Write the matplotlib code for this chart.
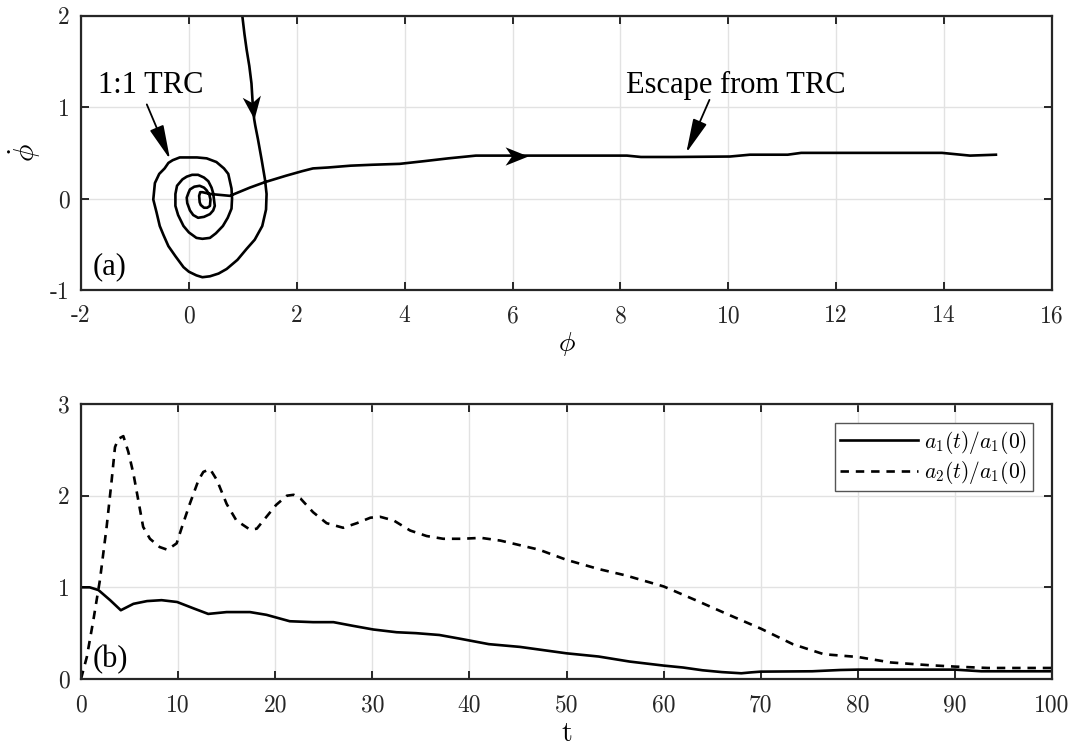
import numpy as np
import matplotlib
matplotlib.use("Agg")
import matplotlib.pyplot as plt
from matplotlib.path import Path
from matplotlib.markers import MarkerStyle
from matplotlib.transforms import Affine2D

plt.rcParams["mathtext.fontset"] = "cm"
plt.rcParams["axes.unicode_minus"] = False

# ---------------- phase-plane trajectory (panel a) ----------------
phi = [0.99, 1.03, 1.07, 1.12, 1.16, 1.19, 1.21, 1.23, 1.28, 1.35, 1.41, 1.44, 1.43,
       1.36, 1.22, 1.07, 0.90, 0.70, 0.55, 0.39, 0.25, 0.14, 0.00, -0.10, -0.25,
       -0.38, -0.47, -0.54, -0.60, -0.66, -0.63, -0.55, -0.45, -0.38, -0.30, -0.17,
       0.00, 0.15, 0.33, 0.51, 0.65, 0.73, 0.79, 0.80, 0.79, 0.72, 0.63, 0.50,
       0.39, 0.25, 0.14, 0.00, -0.10, -0.20, -0.25, -0.25, -0.22, -0.12, -0.04,
       0.06, 0.17, 0.28, 0.36, 0.42, 0.45, 0.48, 0.45, 0.39, 0.28, 0.17, 0.08,
       0.02, -0.03, -0.04, -0.01, 0.02, 0.10, 0.20, 0.28, 0.33, 0.38, 0.40, 0.39,
       0.34, 0.28, 0.22, 0.20, 0.19, 0.21, 0.25, 0.40, 0.58, 0.76, 1.13, 1.41,
       1.80, 2.10, 2.30, 2.58, 3.00, 3.40, 3.91, 4.37, 4.81, 5.32, 5.69, 6.28,
       7.00, 8.12, 8.38, 9.00, 10.03, 10.40, 11.10, 11.35, 12.50, 13.96, 14.48,
       14.96]
phidot = [2.00, 1.80, 1.63, 1.45, 1.26, 0.97, 0.87, 0.80, 0.65, 0.42, 0.21, 0.05, -0.12,
          -0.30, -0.45, -0.55, -0.67, -0.77, -0.82, -0.85, -0.86, -0.84, -0.80, -0.75,
          -0.63, -0.52, -0.40, -0.30, -0.15, -0.01, 0.17, 0.27, 0.33, 0.39, 0.42, 0.45,
          0.45, 0.45, 0.44, 0.40, 0.33, 0.27, 0.11, 0.00, -0.11, -0.21, -0.30, -0.38,
          -0.43, -0.44, -0.43, -0.37, -0.30, -0.18, -0.08, 0.05, 0.14, 0.21, 0.24,
          0.26, 0.26, 0.23, 0.19, 0.12, 0.06, -0.08, -0.13, -0.17, -0.20, -0.21,
          -0.18, -0.13, -0.05, 0.01, 0.06, 0.10, 0.13, 0.14, 0.12, 0.09, 0.04, -0.01,
          -0.08, -0.10, -0.10, -0.07, -0.04, 0.03, 0.07, 0.07, 0.05, 0.04, 0.03,
          0.12, 0.18, 0.25, 0.30, 0.33, 0.34, 0.36, 0.37, 0.38, 0.41, 0.44, 0.47,
          0.47, 0.47, 0.47, 0.47, 0.455, 0.455, 0.46, 0.48, 0.48, 0.50, 0.50, 0.50,
          0.47, 0.48]
# trajectory vertices (by phi value) where a direction arrowhead sits
arrow_tips_phi = [1.21, 6.28]

phi_ticks = [-2, 0, 2, 4, 6, 8, 10, 12, 14, 16]
phidot_ticks = [-1, 0, 1, 2]

# ---------------- amplitude ratios (panel b) ----------------
t1 = [0.0, 0.9, 1.8, 3.0, 4.1, 5.4, 6.8, 8.3, 9.9, 11.6, 13.1, 15.0, 17.4, 19.1,
      21.5, 23.9, 26.0, 28.0, 30.1, 32.5, 34.5, 36.9, 39.0, 42.0, 45.2, 50.0,
      53.3, 56.5, 60.0, 62.0, 64.0, 66.0, 68.0, 69.0, 70.0, 75.3, 78.2, 80.0,
      90.0, 92.7, 100.0]
a1 = [1.00, 1.00, 0.97, 0.86, 0.75, 0.82, 0.85, 0.86, 0.84, 0.77, 0.71, 0.73,
      0.73, 0.70, 0.63, 0.62, 0.62, 0.58, 0.54, 0.51, 0.50, 0.48, 0.44, 0.38,
      0.35, 0.28, 0.245, 0.19, 0.146, 0.125, 0.095, 0.075, 0.062, 0.072, 0.08,
      0.084, 0.098, 0.102, 0.102, 0.084, 0.084]

t2 = [0.0, 0.6, 1.27, 1.95, 2.64, 3.16, 3.5, 3.84, 4.36, 4.87, 5.4, 5.9, 6.4,
      7.1, 8.1, 8.9, 9.85, 10.4, 11.2, 12.1, 12.6, 13.3, 14.0, 15.0, 16.0, 17.4,
      18.1, 19.1, 20.1, 21.2, 21.9, 22.6, 23.9, 25.3, 27.0, 28.4, 29.8, 30.8,
      32.2, 33.9, 35.6, 37.3, 39.2, 41.2, 43.2, 47.2, 50.0, 53.3, 56.1, 60.0,
      63.3, 66.5, 70.0, 73.3, 76.5, 80.0, 83.4, 87.4, 90.0, 93.4, 100.0]
a2 = [0.0, 0.24, 0.64, 1.08, 1.66, 2.17, 2.53, 2.62, 2.65, 2.48, 2.24, 1.95, 1.66,
      1.53, 1.44, 1.41, 1.48, 1.66, 1.91, 2.17, 2.26, 2.29, 2.17, 1.91, 1.73, 1.63,
      1.64, 1.77, 1.90, 2.00, 2.01, 1.97, 1.82, 1.70, 1.65, 1.70, 1.76, 1.77,
      1.73, 1.62, 1.56, 1.53, 1.53, 1.54, 1.51, 1.41, 1.30, 1.20, 1.13, 1.01,
      0.86, 0.71, 0.55, 0.38, 0.27, 0.24, 0.18, 0.15, 0.135, 0.12, 0.12]

t_ticks = [0, 10, 20, 30, 40, 50, 60, 70, 80, 90, 100]
amp_ticks = [0, 1, 2, 3]

# ---------------- styling helpers ----------------
SPINE = "#262626"
TXT = dict(family="Liberation Serif", size=22, color="black")
POINTER = dict(arrowstyle="-|>,head_length=2.1,head_width=0.45",
               mutation_scale=10, color="black", lw=1.3, shrinkA=0, shrinkB=0)

# notched arrowhead pointing along +x with its tip at the origin
HEAD = Path([(0, 0), (-1, 0.40), (-0.72, 0), (-1, -0.40), (0, 0)],
            [Path.MOVETO, Path.LINETO, Path.LINETO, Path.LINETO, Path.CLOSEPOLY])


def style_axes(ax, xticks, yticks):
    ax.set_xticks(xticks)
    ax.set_yticks(yticks)
    ax.set_xticklabels([str(v) for v in xticks], family="cmr10", size=17, color=SPINE)
    ax.set_yticklabels([str(v) for v in yticks], family="cmr10", size=17, color=SPINE)
    ax.tick_params(direction="in", length=6, width=1.4, top=True, right=True,
                   colors=SPINE)
    ax.tick_params(axis="x", pad=11)
    ax.tick_params(axis="y", pad=8)
    for sp in ax.spines.values():
        sp.set_linewidth(1.6)
        sp.set_color(SPINE)
    ax.grid(True, color="#e2e2e2", linewidth=1.0)
    ax.set_axisbelow(True)


fig = plt.figure(figsize=(10.70, 7.49), dpi=100)

# ---------------- panel (a) ----------------
ax1 = fig.add_axes([0.0757, 0.6128, 0.9075, 0.3662])
ax1.set_xlim(-2, 16)
ax1.set_ylim(-1, 2)
ax1.plot(phi, phidot, color="black", lw=1.9, solid_joinstyle="round")
for tip_phi in arrow_tips_phi:
    i = phi.index(tip_phi)
    p0 = ax1.transData.transform((phi[i - 1], phidot[i - 1]))
    p1 = ax1.transData.transform((phi[i], phidot[i]))
    ang = np.degrees(np.arctan2(p1[1] - p0[1], p1[0] - p0[0]))
    ax1.plot(phi[i], phidot[i], linestyle="none", color="black",
             marker=MarkerStyle(HEAD, transform=Affine2D().rotate_deg(ang)),
             markersize=33, markeredgewidth=0)
style_axes(ax1, phi_ticks, phidot_ticks)
ax1.set_xlabel(r"$\phi$", fontsize=20, labelpad=2)
ax1.set_ylabel(r"$\dot{\phi}$", fontsize=21, labelpad=5)

ax1.text(-1.69, 1.16, "1:1 TRC", ha="left", va="baseline", **TXT)
ax1.annotate("", xy=(-0.35, 0.43), xytext=(-0.78, 1.03), arrowprops=POINTER)
ax1.text(8.11, 1.16, "Escape from TRC", ha="left", va="baseline", **TXT)
ax1.annotate("", xy=(9.22, 0.50), xytext=(9.65, 1.08), arrowprops=POINTER)
ax1.text(-1.79, -0.83, "(a)", ha="left", va="baseline", **TXT)

# ---------------- panel (b) ----------------
ax2 = fig.add_axes([0.0757, 0.0935, 0.9075, 0.367])
ax2.plot(t1, a1, color="black", lw=1.9, label=r"$a_1(t)/a_1(0)$")
ax2.plot(t2, a2, color="black", lw=1.9, ls=(0, (3.2, 2.6)), label=r"$a_2(t)/a_1(0)$")
ax2.set_xlim(0, 100)
ax2.set_ylim(0, 3)
style_axes(ax2, t_ticks, amp_ticks)
ax2.set_xlabel(r"$\mathrm{t}$", fontsize=20, labelpad=2)
ax2.text(1.2, 0.13, "(b)", ha="left", va="baseline", **TXT)

leg = ax2.legend(loc="upper right", fontsize=15.5, frameon=True, fancybox=False,
                 framealpha=1, edgecolor="#555555", handlelength=3.6,
                 handletextpad=0.3, borderpad=0.25, labelspacing=0.15,
                 borderaxespad=0.9)
leg.get_frame().set_linewidth(1.0)

fig.savefig("out.png", dpi=100)
